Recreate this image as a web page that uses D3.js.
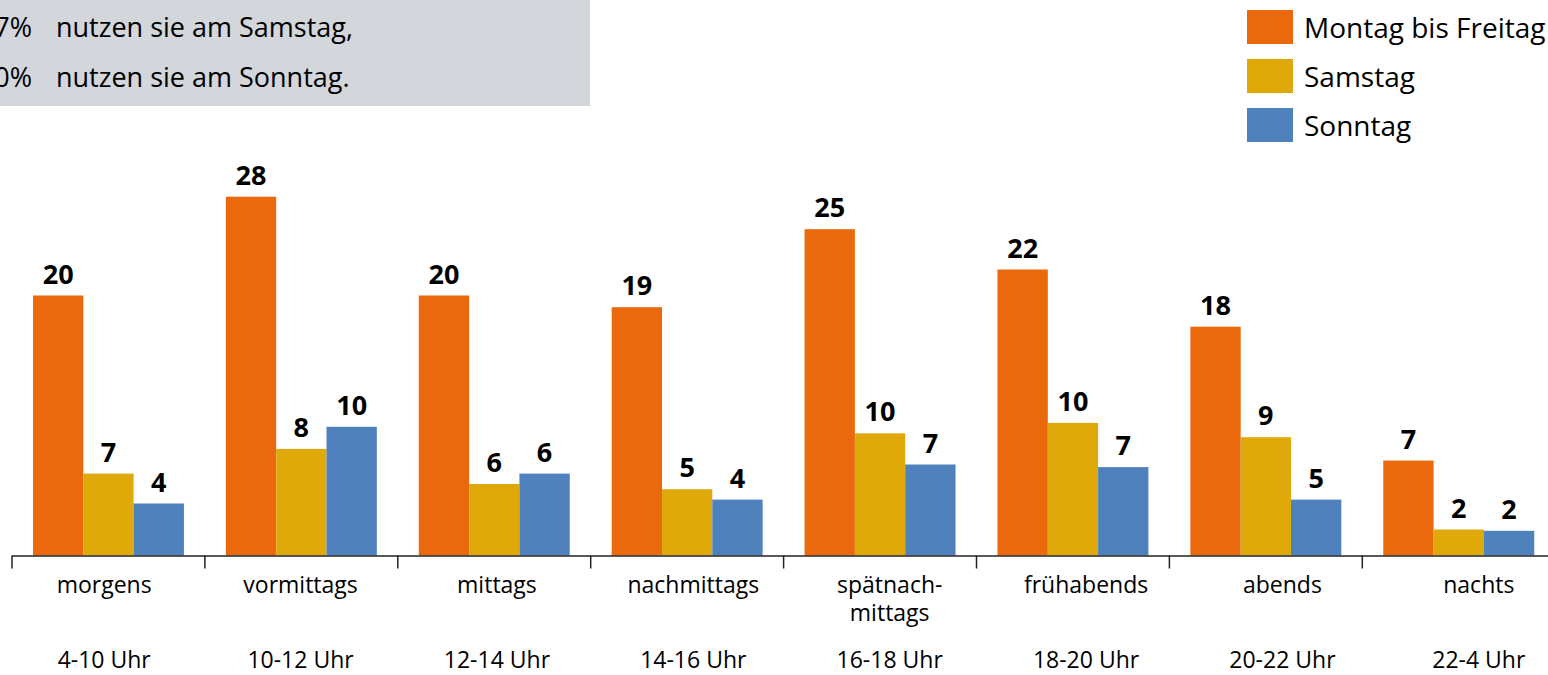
<!DOCTYPE html>
<html>
<head>
<meta charset="utf-8">
<script src="https://cdn.jsdelivr.net/npm/d3@7"></script>
<style>
  html, body { margin: 0; padding: 0; background: #fff; }
  svg { display: block; }
  text { font-family: "Open Sans", sans-serif; fill: #000; }
</style>
</head>
<body>
<svg id="chart" width="1548" height="675"></svg>
<script>
// ---- data ----
const categories = ["morgens", "vormittags", "mittags", "nachmittags", "spätnach-\nmittags", "frühabends", "abends", "nachts"];
const timeRanges = ["4-10 Uhr", "10-12 Uhr", "12-14 Uhr", "14-16 Uhr", "16-18 Uhr", "18-20 Uhr", "20-22 Uhr", "22-4 Uhr"];
const seriesNames = ["Montag bis Freitag", "Samstag", "Sonntag"];
// bar heights as drawn
const valuesMoFr = [20.0, 27.6, 20.0, 19.1, 25.1, 22.0, 17.6, 7.3];
const valuesSa   = [6.3, 8.2, 5.5, 5.1, 9.4, 10.2, 9.1, 2.0];
const valuesSo   = [4.0, 9.9, 6.3, 4.3, 7.0, 6.8, 4.3, 1.9];
// printed value labels
const labelsMoFr = [20, 28, 20, 19, 25, 22, 18, 7];
const labelsSa   = [7, 8, 6, 5, 10, 10, 9, 2];
const labelsSo   = [4, 10, 6, 4, 7, 7, 5, 2];
const colors = ["#E9690C", "#E0A90A", "#4F81BD"];
const boxLines = [["7%", "nutzen sie am Samstag,"], ["0%", "nutzen sie am Sonntag."]];

const seriesValues = [valuesMoFr, valuesSa, valuesSo];
const seriesLabels = [labelsMoFr, labelsSa, labelsSo];

const svg = d3.select("#chart");

// ---- info box ----
svg.append("rect").attr("x", 0).attr("y", 0).attr("width", 590).attr("height", 106).attr("fill", "#D3D6DB");
boxLines.forEach((ln, i) => {
  const y = 37 + i * 50;
  svg.append("text").attr("x", 32).attr("y", y).attr("text-anchor", "end").attr("font-size", 27).text(ln[0]);
  svg.append("text").attr("x", 56).attr("y", y).attr("font-size", 27).text(ln[1]);
});

// ---- scales ----
const baseline = 555.5;
const x0 = d3.scaleBand().domain(categories).range([12, 12 + 8 * 192.9]).padding(0);
const x1 = d3.scaleBand().domain(seriesNames).range([0, x0.bandwidth()]).paddingInner(0).paddingOuter(0.417);
const y = d3.scaleLinear().domain([0, 20]).range([baseline, baseline - 260]);
const xLabel = d3.scaleBand().domain(categories).range([6, 1577]).padding(0);

// ---- bars ----
const groups = svg.append("g").selectAll("g")
  .data(categories).join("g")
  .attr("transform", d => `translate(${x0(d)},0)`);

groups.selectAll("rect")
  .data((d, i) => seriesNames.map((s, j) => ({ s, v: seriesValues[j][i], l: seriesLabels[j][i], c: colors[j] })))
  .join("rect")
  .attr("x", d => x1(d.s))
  .attr("y", d => y(d.v))
  .attr("width", x1.bandwidth())
  .attr("height", d => baseline - y(d.v))
  .attr("fill", d => d.c);

groups.selectAll("text")
  .data((d, i) => seriesNames.map((s, j) => ({ s, v: seriesValues[j][i], l: seriesLabels[j][i] })))
  .join("text")
  .attr("x", d => x1(d.s) + x1.bandwidth() / 2)
  .attr("y", d => y(d.v) - 12)
  .attr("text-anchor", "middle")
  .attr("font-size", 27)
  .attr("font-weight", "bold")
  .text(d => d.l);

// ---- axis ----
const axisG = svg.append("g");
axisG.append("line").attr("x1", 12).attr("x2", 1548).attr("y1", baseline + 0.5).attr("y2", baseline + 0.5)
  .attr("stroke", "#222").attr("stroke-width", 1.5);
axisG.selectAll("line.tick")
  .data(categories.concat(["__end"]))
  .join("line").attr("class", "tick")
  .attr("x1", (d, i) => (i < categories.length ? x0(d) : x0.range()[1]))
  .attr("x2", (d, i) => (i < categories.length ? x0(d) : x0.range()[1]))
  .attr("y1", baseline).attr("y2", baseline + 13)
  .attr("stroke", "#222").attr("stroke-width", 1.5);

// category labels
svg.append("g").selectAll("text")
  .data(categories).join("text")
  .attr("text-anchor", "middle")
  .attr("font-size", 23)
  .attr("transform", d => `translate(${xLabel(d) + xLabel.bandwidth() / 2},593)`)
  .each(function (d) {
    const parts = d.split("\n");
    d3.select(this).selectAll("tspan").data(parts).join("tspan")
      .attr("x", 0).attr("dy", (p, k) => (k === 0 ? 0 : 28)).text(p => p);
  });

svg.append("g").selectAll("text")
  .data(timeRanges).join("text")
  .attr("x", (d, i) => xLabel(categories[i]) + xLabel.bandwidth() / 2)
  .attr("y", 668)
  .attr("text-anchor", "middle")
  .attr("font-size", 23)
  .text(d => d);

// ---- legend ----
const legend = svg.append("g").attr("transform", "translate(1247,10)");
seriesNames.forEach((s, i) => {
  legend.append("rect").attr("x", 0).attr("y", i * 49).attr("width", 46).attr("height", 34).attr("fill", colors[i]);
  legend.append("text").attr("x", 57).attr("y", i * 49 + 28).attr("font-size", 28).text(s);
});
</script>
</body>
</html>
